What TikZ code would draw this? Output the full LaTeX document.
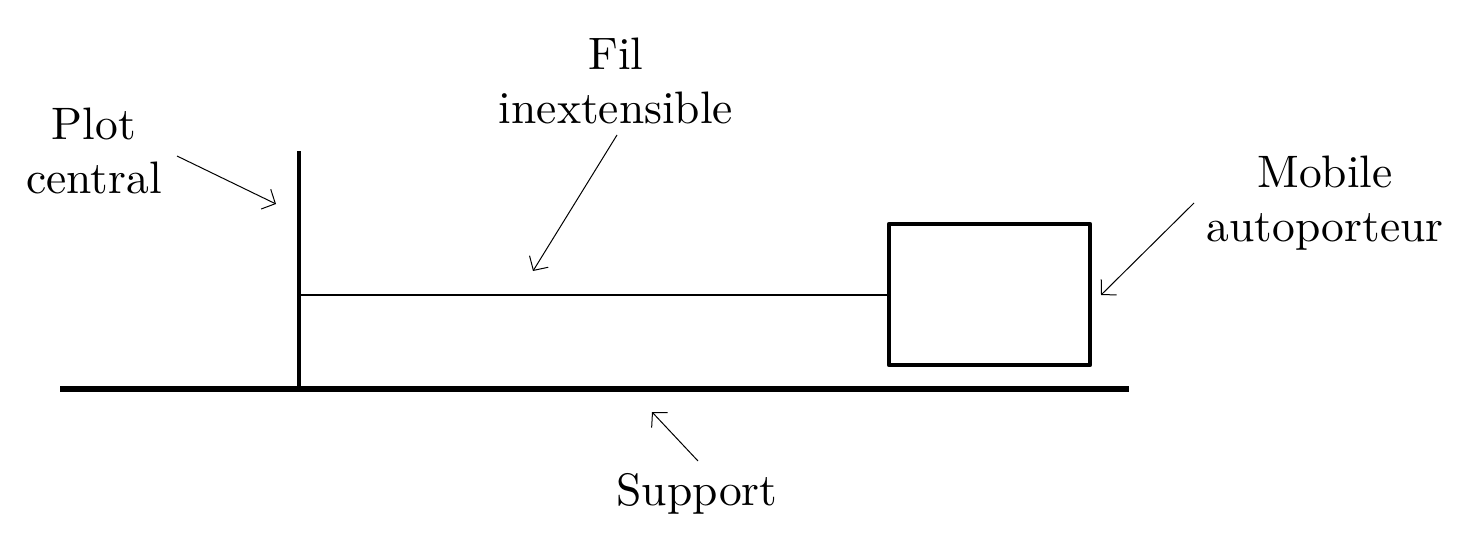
\documentclass[tikz,border=0pt]{standalone}
\usetikzlibrary{arrows.meta}
\newcommand{\lbltext}[1]{\scalebox{4.55}{\renewcommand{\arraystretch}{0.99}\begin{tabular}{@{}c@{}}#1\end{tabular}}}
\begin{document}
\begin{tikzpicture}[x=1pt,y=-1pt,
  lbl/.style={inner sep=0pt,outer sep=0pt},
  ptr/.style={line width=1pt,-{Straight Barb[length=10.5pt,width=22pt,line width=1pt]}},
  boxline/.style={line width=4.4pt,line join=round},
  supline/.style={line width=6.4pt},
  plotline/.style={line width=4.6pt},
  filline/.style={line width=1.5pt}]
\useasboundingbox (0,0) rectangle (1467,540);
\coordinate (supL) at (60,389);
\coordinate (supR) at (1129,389);
\coordinate (plotB) at (299,389);
\coordinate (plotT) at (299,151);
\coordinate (filA) at (299,295);
\node[draw,boxline,outer sep=0pt,minimum width=201pt,minimum height=141pt,inner sep=0pt] (box) at (989.5,294.5) {};
\draw[supline] (supL) -- (supR);
\draw[plotline] (plotB) -- (plotT);
\draw[filline] (filA) -- (box.west |- filA);
\node[lbl] (plot) at (94,156) {\lbltext{Plot\\central}};
\node[lbl] (fil) at (616,86) {\lbltext{Fil\\inextensible}};
\node[lbl] (mobile) at (1325,204) {\lbltext{Mobile\\autoporteur}};
\node[lbl] (support) at (697,495) {\lbltext{Support}};
\coordinate (a1s) at (177,156); \coordinate (a1e) at (276,204);
\coordinate (a2s) at (617,135); \coordinate (a2e) at (533,271);
\coordinate (a3s) at (1194,203); \coordinate (a3e) at (1101,295);
\coordinate (a4s) at (698,461); \coordinate (a4e) at (652,412);
\draw[ptr] (a1s) -- (a1e);
\draw[ptr] (a2s) -- (a2e);
\draw[ptr] (a3s) -- (a3e);
\draw[ptr] (a4s) -- (a4e);
\end{tikzpicture}
\end{document}
